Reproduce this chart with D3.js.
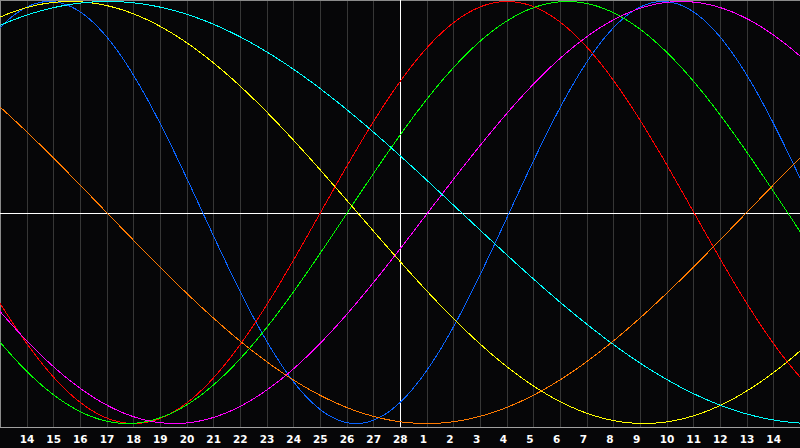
<!DOCTYPE html>
<html><head><meta charset="utf-8">
<script src="https://cdn.jsdelivr.net/npm/d3@7/dist/d3.min.js"></script>
<style>html,body{margin:0;padding:0;background:#060608;overflow:hidden}</style>
</head><body>
<svg id="c" width="800" height="448"></svg>
<script>
// Day labels along the bottom (today = 28 at the centre)
const dayLabels = [14,15,16,17,18,19,20,21,22,23,24,25,26,27,28,1,2,3,4,5,6,7,8,9,10,11,12,13,14];
const dayOffsets = [-14,-13,-12,-11,-10,-9,-8,-7,-6,-5,-4,-3,-2,-1,0,1,2,3,4,5,6,7,8,9,10,11,12,13,14];
// Biorhythm cycles: period (days) and the day offset of a peak
const cycleNames   = ["Physical","Emotional","Intellectual","Intuitive","Aesthetic","Awareness","Spiritual"];
const cyclePeriods = [23, 28, 33, 38, 43, 48, 53];
const cyclePeakDay = [9.85, 4.02, 6.28, 10.55, -12.35, -23.0, -10.95];
const cycleColors  = ["#0a64ff","#ff0000","#00ff00","#ff00ff","#ffff00","#ff7a00","#00ffff"];
const drawOrder    = [0,1,2,3,4,5,6];

const W = 800, H = 448;
const svg = d3.select("#c");
svg.append("rect").attr("width", W).attr("height", H).attr("fill", "#060608");

const x = d3.scaleLinear().domain([-15, 15]).range([0, 800]);
const y = d3.scaleLinear().domain([-1, 1]).range([423.5, 1.5]);

// vertical grid
svg.append("g").selectAll("line").data(dayOffsets).join("line")
  .attr("x1", d => Math.round(x(d)) + 0.5).attr("x2", d => Math.round(x(d)) + 0.5)
  .attr("y1", 0).attr("y2", 427)
  .attr("stroke", "#363636").attr("stroke-width", 1);

// borders
svg.append("line").attr("x1", 0).attr("x2", 800).attr("y1", 0.5).attr("y2", 0.5).attr("stroke", "#8a8a8a");
svg.append("line").attr("x1", 0.5).attr("x2", 0.5).attr("y1", 0).attr("y2", 428).attr("stroke", "#8a8a8a");
svg.append("line").attr("x1", 0).attr("x2", 800).attr("y1", 427.5).attr("y2", 427.5).attr("stroke", "#a0a0a0");

// centre cross
svg.append("line").attr("x1", 0).attr("x2", 800).attr("y1", Math.round(y(0)) + 0.5).attr("y2", Math.round(y(0)) + 0.5).attr("stroke", "#ffffff");
svg.append("line").attr("x1", Math.round(x(0)) + 0.5).attr("x2", Math.round(x(0)) + 0.5).attr("y1", 0).attr("y2", 427).attr("stroke", "#ffffff");

// curves
const ts = d3.range(-15, 15.001, 0.05);
const line = d3.line().x(d => x(d[0])).y(d => y(d[1]));
drawOrder.forEach(i => {
  const P = cyclePeriods[i], pk = cyclePeakDay[i];
  const pts = ts.map(t => [t, Math.cos(2 * Math.PI * (t - pk) / P)]);
  svg.append("path").datum(pts).attr("d", line)
    .attr("fill", "none").attr("stroke", cycleColors[i]).attr("stroke-width", 1)
    .attr("shape-rendering", "crispEdges")
    .append("title").text(cycleNames[i]);
});

// day labels
svg.append("g").selectAll("text").data(dayOffsets).join("text")
  .attr("x", d => x(d) - 7).attr("y", 443)
  .attr("fill", "#ffffff")
  .attr("font-family", "DejaVu Sans")
  .attr("font-weight", "bold")
  .attr("font-size", "10.5px")
  .text((d, i) => dayLabels[i]);
</script>
</body></html>
